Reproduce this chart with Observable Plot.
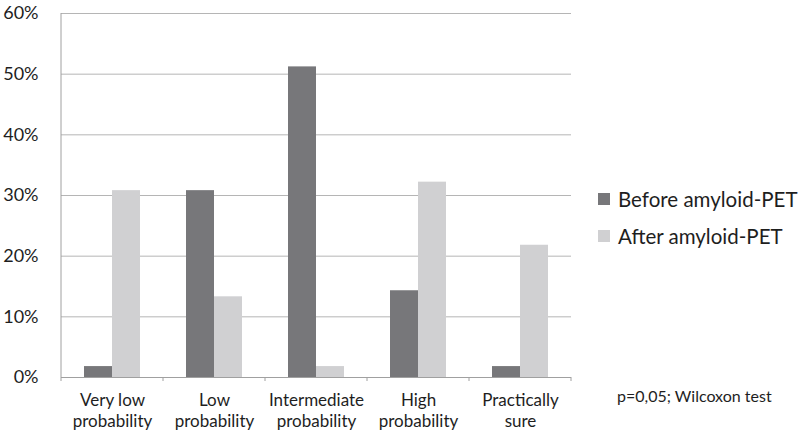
<!DOCTYPE html>
<html><head><meta charset="utf-8">
<script src="https://cdn.jsdelivr.net/npm/d3@7"></script>
<script src="https://cdn.jsdelivr.net/npm/@observablehq/plot@0.6"></script>
<style>
body{margin:0;background:#fff;font-family:Lato,sans-serif;}
#wrap{position:relative;width:800px;height:430px;overflow:hidden;}
#legend{position:absolute;left:598px;top:180px;font-size:20.5px;color:#1e1e1e;}
.row{display:flex;align-items:center;height:37px;}
.sw{width:12px;height:12px;margin-right:8px;}
#caption{position:absolute;left:617px;top:386px;font-size:16px;color:#1e1e1e;}
</style></head><body><div id="wrap"></div>
<script>
const categories = ["Very low\nprobability","Low\nprobability","Intermediate\nprobability","High\nprobability","Practically\nsure"];
const series = ["Before amyloid-PET","After amyloid-PET"];
const before = [1.8, 30.8, 51.2, 14.3, 1.8];
const after = [30.8, 13.3, 1.8, 32.2, 21.8];
const yTicks = [0, 10, 20, 30, 40, 50, 60];
const colors = ["#77777a", "#d0d0d2"];
const caption = "p=0,05; Wilcoxon test";

const data = categories.flatMap((c, i) => [
  {category: c, series: series[0], value: before[i]},
  {category: c, series: series[1], value: after[i]}
]);

const plot = Plot.plot({
  width: 800, height: 430,
  marginLeft: 61, marginRight: 229, marginTop: 13, marginBottom: 53,
  style: {fontFamily: "Lato, sans-serif", background: "white", color: "#1e1e1e"},
  fx: {domain: categories, padding: 0, label: null},
  x: {domain: series, paddingInner: 0, paddingOuter: 0.76, axis: null},
  y: {domain: [0, 60], label: null},
  color: {domain: series, range: colors},
  marks: [
    Plot.gridY(yTicks, {stroke: "#b5b5b5", strokeOpacity: 1, strokeWidth: 1}),
    Plot.barY(data, {fx: "category", x: "series", y: "value", fill: "series"}),
    Plot.ruleY([0], {stroke: "#a0a0a0", strokeWidth: 1}),
    Plot.axisY(yTicks, {tickSize: 0, tickPadding: 23, fontSize: 18, label: null, tickFormat: d => d + "%"}),
    Plot.axisFx({anchor: "bottom", tickSize: 0, tickPadding: 13, fontSize: 17, lineHeight: 1.25, label: null})
  ]
});

// axis line and category boundary ticks, positioned from the plot's own scales
const fx = plot.scale("fx"), ys = plot.scale("y");
const y0 = ys.apply(0), yTop = ys.apply(60);
const edges = categories.map(c => fx.apply(c));
edges.push(fx.apply(categories[categories.length - 1]) + fx.bandwidth);
const svg = d3.select(plot);
const g = svg.append("g").attr("stroke", "#a0a0a0").attr("stroke-width", 1);
g.append("line").attr("x1", edges[0]).attr("x2", edges[0]).attr("y1", yTop).attr("y2", y0 + 4);
g.selectAll("line.t").data(edges.slice(1)).join("line").attr("class", "t")
  .attr("x1", d => d).attr("x2", d => d).attr("y1", y0).attr("y2", y0 + 4);

const wrap = document.getElementById("wrap");
wrap.appendChild(plot);

const legend = document.createElement("div");
legend.id = "legend";
series.forEach((s, i) => {
  const row = document.createElement("div");
  row.className = "row";
  const sw = document.createElement("div");
  sw.className = "sw";
  sw.style.background = colors[i];
  const t = document.createElement("span");
  t.textContent = s;
  row.appendChild(sw); row.appendChild(t);
  legend.appendChild(row);
});
wrap.appendChild(legend);

const cap = document.createElement("div");
cap.id = "caption";
cap.textContent = caption;
wrap.appendChild(cap);
</script></body></html>
